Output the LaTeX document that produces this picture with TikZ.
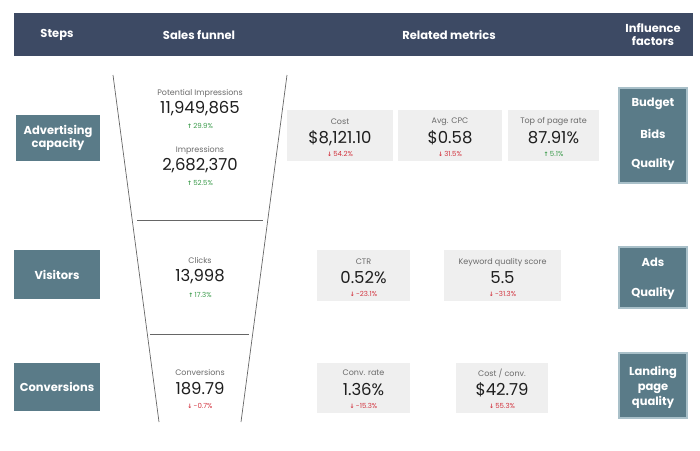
\documentclass[tikz,border=0pt]{standalone}
\usepackage{fontspec}
\setmainfont{Poppins}
\newfontfamily\symf{DejaVu Sans}
\definecolor{hdr}{HTML}{3D4A64}
\definecolor{stepc}{HTML}{5A7B88}
\definecolor{inflb}{HTML}{A9C0C9}
\definecolor{mbox}{HTML}{EFEFEF}
\definecolor{upc}{HTML}{3A9A4A}
\definecolor{dnc}{HTML}{D2343F}
\definecolor{lblc}{HTML}{6A6A6A}
\definecolor{valc}{HTML}{1E1E1E}
\definecolor{fun}{HTML}{666666}
\newcommand{\upch}[1]{\textcolor{upc}{{\symf\fontsize{6}{6}\selectfont\bfseries ↑}\,#1}}
\newcommand{\dnch}[1]{\textcolor{dnc}{{\symf\fontsize{6}{6}\selectfont\bfseries ↓}\,#1}}
\begin{document}
\begin{tikzpicture}[x=1pt,y=-1pt,
  hdrtxt/.style={text=white,font=\fontsize{11.5}{13}\selectfont\bfseries,align=center},
  stepbox/.style={fill=stepc,text=white,font=\fontsize{11.5}{13}\selectfont\bfseries,align=center,inner sep=0pt},
  inflbox/.style={fill=stepc,draw=inflb,line width=1.2pt,inner sep=0pt},
  infltxt/.style={text=white,font=\fontsize{11.5}{15}\selectfont\bfseries,align=center,inner sep=0pt},
  metbox/.style={fill=mbox,inner sep=0pt},
  lbl/.style={text=lblc,font=\fontsize{8}{9}\selectfont,inner sep=0pt},
  val/.style={text=valc,font=\fontsize{16.5}{17}\selectfont,inner sep=0pt},
  chg/.style={font=\fontsize{7}{7}\selectfont,inner sep=0pt},
  funline/.style={draw=fun,line width=0.7pt}]
\useasboundingbox (0,0) rectangle (700,450);
% header
\fill[hdr] (14,13) rectangle (693,56);
\node[hdrtxt] (hsteps) at (57,35) {Steps};
\node[hdrtxt] (hfunnel) at (199,35) {Sales funnel};
\node[hdrtxt] (hmetrics) at (449,35) {Related metrics};
\node[hdrtxt] (hinfl) at (653,35) {Influence\\factors};
% steps
\node[stepbox,minimum width=84pt,minimum height=46pt] (s1) at (58,138) {Advertising\\capacity};
\node[stepbox,minimum width=86pt,minimum height=49pt] (s2) at (57,274.5) {Visitors};
\node[stepbox,minimum width=86pt,minimum height=48pt] (s3) at (57,387) {Conversions};
% funnel
\coordinate (ftl) at (113,75);
\coordinate (fbl) at (159,422);
\coordinate (ftr) at (287,75);
\coordinate (fbr) at (241,422);
\coordinate (d1l) at (137,220);
\coordinate (d1r) at (263,220);
\coordinate (d2l) at (150,334);
\coordinate (d2r) at (249,334);
\draw[funline] (ftl) -- (fbl);
\draw[funline] (ftr) -- (fbr);
\draw[funline] (d1l) -- (d1r);
\draw[funline] (d2l) -- (d2r);
\node[lbl] (fpil) at (200,93) {Potential Impressions};
\node[val] (fpiv) at (200,109) {11,949,865};
\node[chg] (fpic) at (200,126) {\upch{29.9\%}};
\node[lbl] (fiml) at (200,150) {Impressions};
\node[val] (fimv) at (200,166) {2,682,370};
\node[chg] (fimc) at (200,183) {\upch{52.5\%}};
\node[lbl] (fcll) at (200,260) {Clicks};
\node[val] (fclv) at (200,277) {13,998};
\node[chg] (fclc) at (200,295) {\upch{17.3\%}};
\node[lbl] (fcol) at (200,372) {Conversions};
\node[val] (fcov) at (200,389) {189.79};
\node[chg] (fcoc) at (200,406) {\dnch{-0.7\%}};
% metrics row 1
\node[metbox,minimum width=106pt,minimum height=51pt] (mcost) at (340,135.5) {};
\node[lbl] (mcostl) at (340,122) {Cost};
\node[val] (mcostv) at (340,138) {\$8,121.10};
\node[chg] (mcostc) at (340,154) {\dnch{54.2\%}};
\node[metbox,minimum width=104pt,minimum height=51pt] (mcpc) at (450,135.5) {};
\node[lbl] (mcpcl) at (450,122) {Avg. CPC};
\node[val] (mcpcv) at (450,138) {\$0.58};
\node[chg] (mcpcc) at (450,154) {\dnch{31.5\%}};
\node[metbox,minimum width=91pt,minimum height=51pt] (mtop) at (553.5,135.5) {};
\node[lbl] (mtopl) at (553.5,122) {Top of page rate};
\node[val] (mtopv) at (553.5,138) {87.91\%};
\node[chg] (mtopc) at (553.5,154) {\upch{5.1\%}};
% metrics row 2
\node[metbox,minimum width=93pt,minimum height=51pt] (mctr) at (363.5,275.5) {};
\node[lbl] (mctrl) at (363.5,262) {CTR};
\node[val] (mctrv) at (363.5,278) {0.52\%};
\node[chg] (mctrc) at (363.5,294) {\dnch{-23.1\%}};
\node[metbox,minimum width=117pt,minimum height=51pt] (mkw) at (502.5,275.5) {};
\node[lbl] (mkwl) at (502.5,262) {Keyword quality score};
\node[val] (mkwv) at (502.5,278) {5.5};
\node[chg] (mkwc) at (502.5,294) {\dnch{-31.3\%}};
% metrics row 3
\node[metbox,minimum width=93pt,minimum height=50pt] (mcr) at (363.5,388) {};
\node[lbl] (mcrl) at (363.5,373) {Conv. rate};
\node[val] (mcrv) at (363.5,390) {1.36\%};
\node[chg] (mcrc) at (363.5,406) {\dnch{-15.3\%}};
\node[metbox,minimum width=92pt,minimum height=50pt] (mcc) at (502,388) {};
\node[lbl] (mccl) at (502,373) {Cost / conv.};
\node[val] (mccv) at (502,390) {\$42.79};
\node[chg] (mccc) at (502,406) {\dnch{55.3\%}};
% influence factors
\node[inflbox,minimum width=68pt,minimum height=95pt] (i1) at (653,135.5) {};
\node[infltxt] (i1a) at (653,104) {Budget};
\node[infltxt] (i1b) at (653,134) {Bids};
\node[infltxt] (i1c) at (653,164) {Quality};
\node[inflbox,minimum width=68pt,minimum height=61pt] (i2) at (653,277.5) {};
\node[infltxt] (i2a) at (653,262) {Ads};
\node[infltxt] (i2b) at (653,293) {Quality};
\node[inflbox,minimum width=68pt,minimum height=65pt] (i3) at (653,385.5) {};
\node[infltxt] (i3a) at (653,387) {Landing\\page\\quality};
\end{tikzpicture}
\end{document}
